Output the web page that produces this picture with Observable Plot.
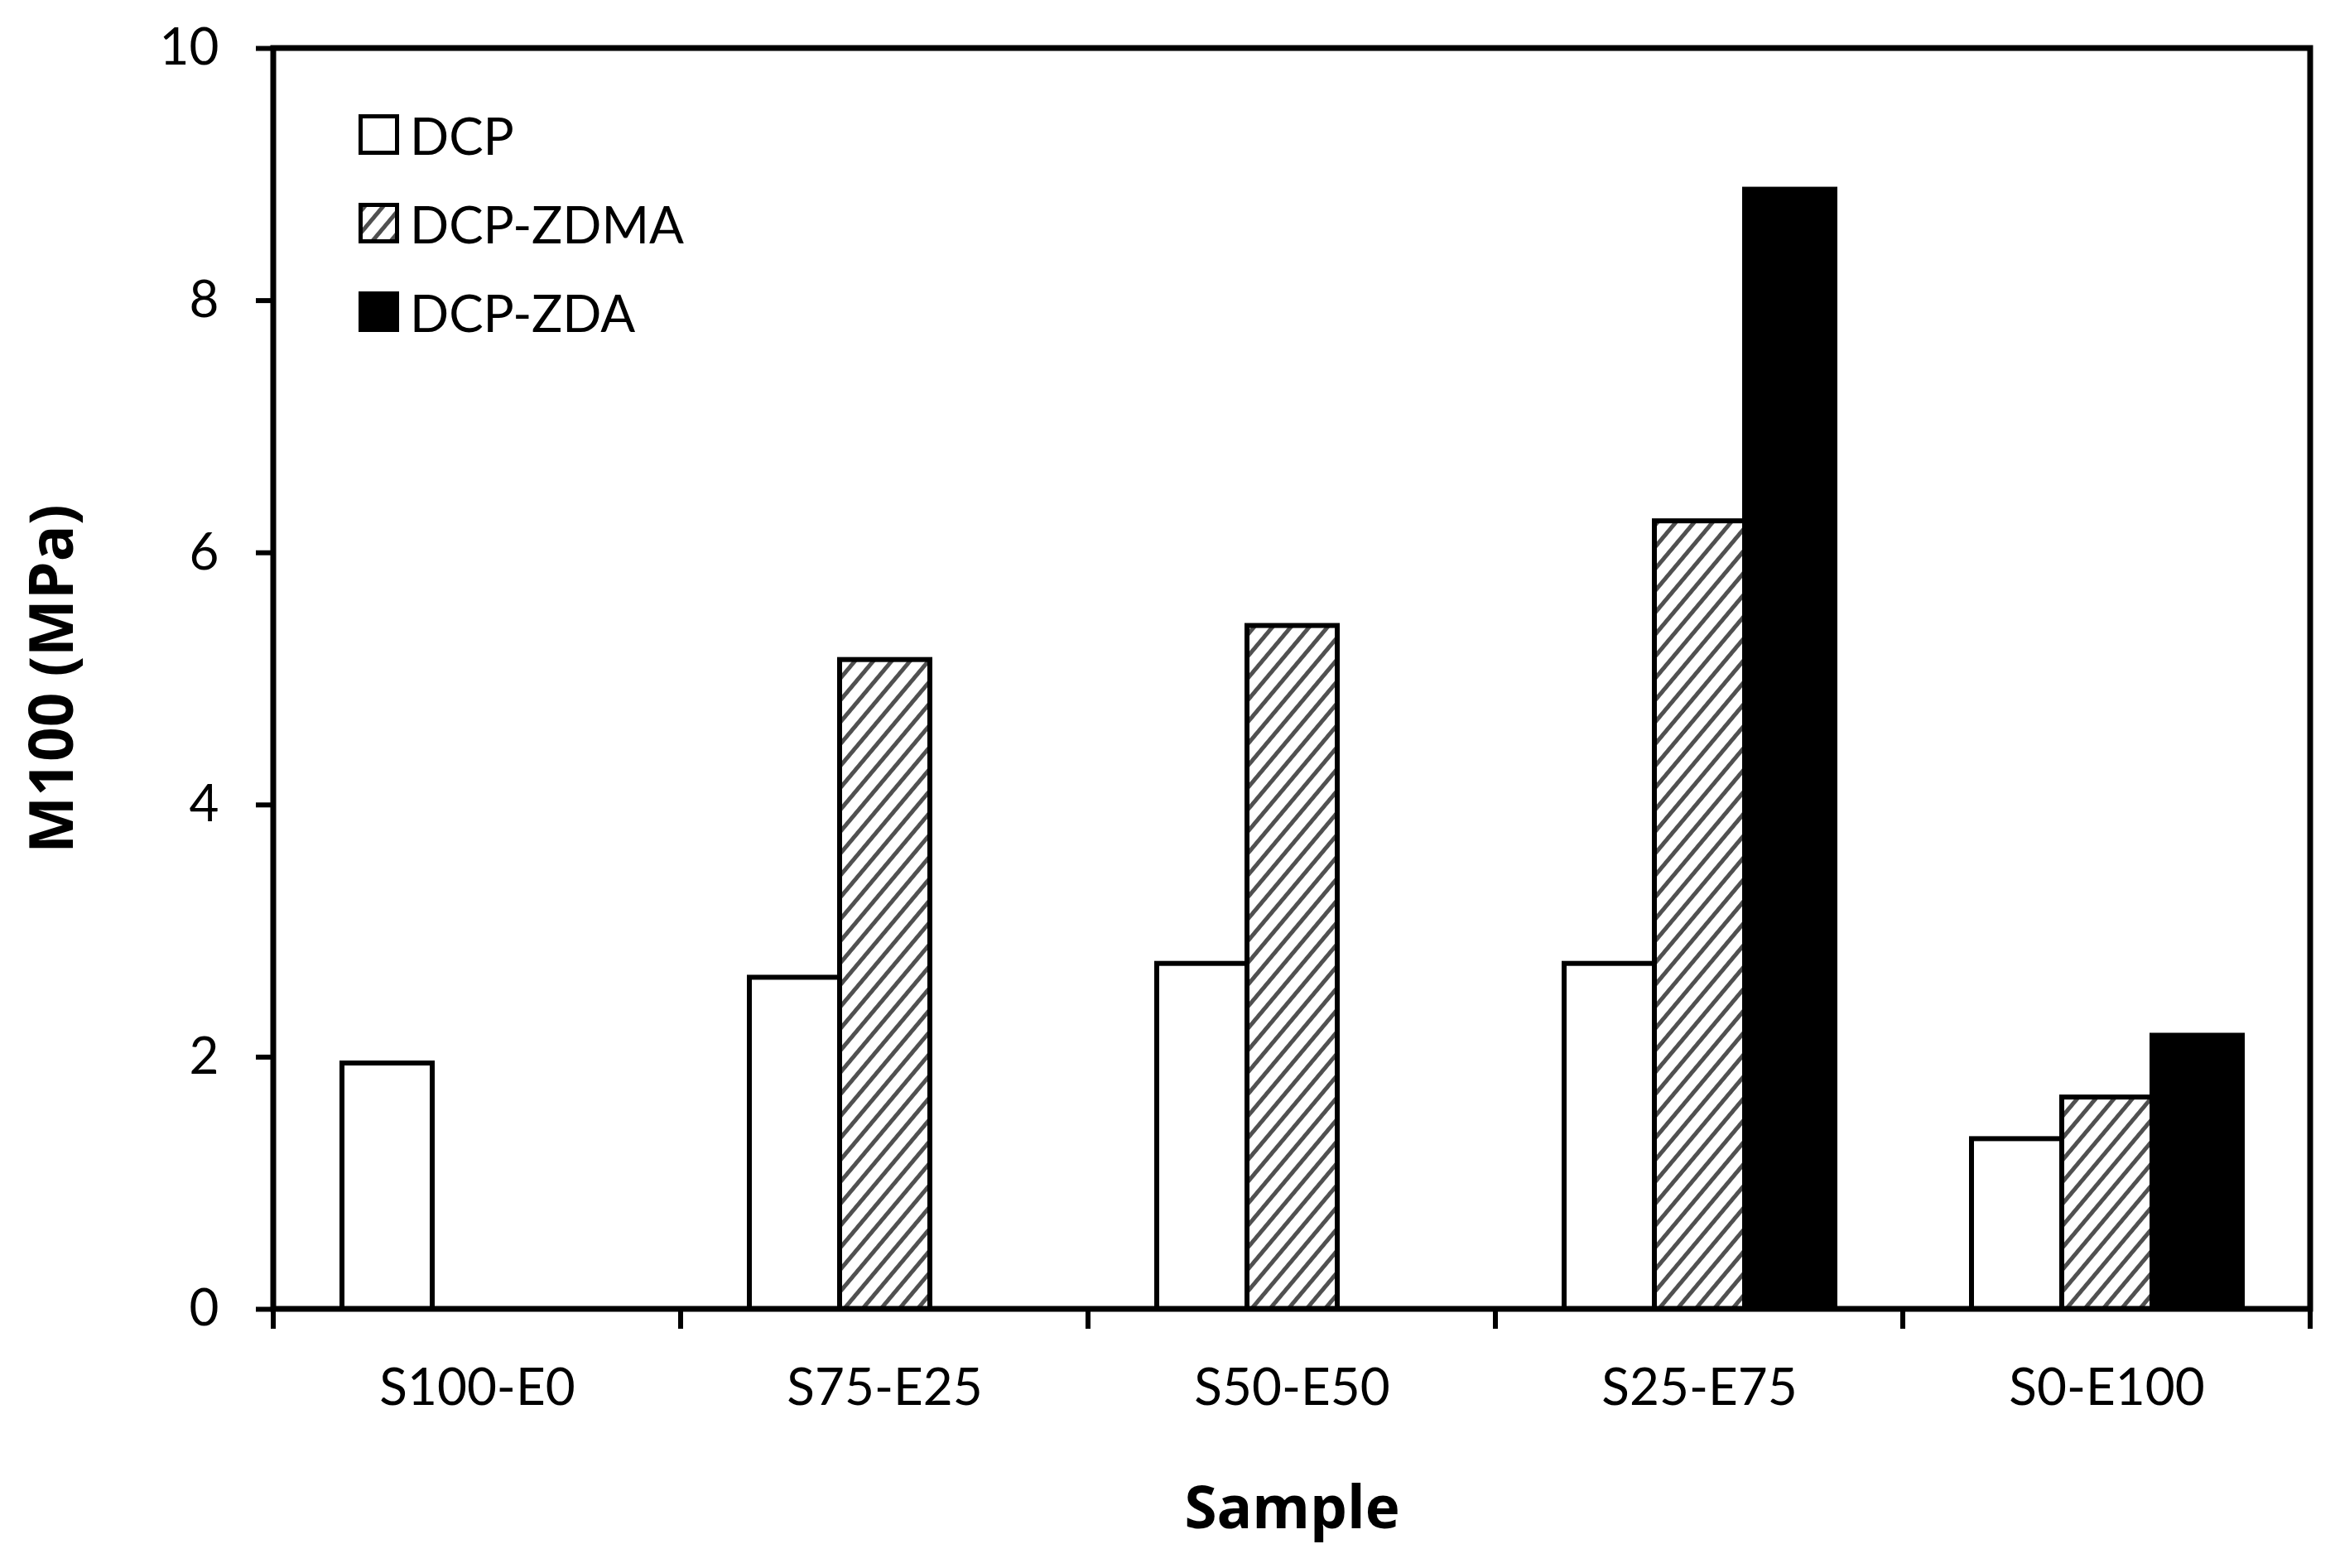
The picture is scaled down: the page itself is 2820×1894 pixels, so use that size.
<!DOCTYPE html>
<html>
<head>
<meta charset="utf-8">
<script src="https://cdn.jsdelivr.net/npm/d3@7"></script>
<script src="https://cdn.jsdelivr.net/npm/@observablehq/plot@0.6"></script>
<style>
  html, body { margin: 0; padding: 0; background: white; }
  #wrap { position: relative; width: 2820px; height: 1894px; overflow: hidden; }
  #legend { position: absolute; left: 433px; top: 109px; font-family: Lato, sans-serif; font-size: 62px; color: black; }
  .row { display: flex; align-items: center; height: 107px; }
  .row svg { display: block; margin-right: 13px; }
</style>
</head>
<body>
<svg width="0" height="0" style="position:absolute">
  <defs>
    <pattern id="hatch" patternUnits="userSpaceOnUse" width="17" height="17" patternTransform="rotate(40)">
      <rect width="17" height="17" fill="white"></rect>
      <line x1="8.5" y1="0" x2="8.5" y2="17" stroke="#505050" stroke-width="5"></line>
    </pattern>
  </defs>
</svg>
<div id="wrap">
  <div id="chart"></div>
  <div id="legend"></div>
</div>
<script>
const samples = ["S100-E0", "S75-E25", "S50-E50", "S25-E75", "S0-E100"];
const series = ["DCP", "DCP-ZDMA", "DCP-ZDA"];
const dcp  = [1.95, 2.63, 2.74, 2.74, 1.35];
const zdma = [null, 5.15, 5.42, 6.25, 1.68];
const zda  = [null, null, null, 8.88, 2.17];
const yTicks = [0, 2, 4, 6, 8, 10];
const fills = ["white", "url(#hatch)", "black"];

const valuesBySeries = [dcp, zdma, zda];
const data = [];
samples.forEach((s, i) => {
  series.forEach((k, j) => {
    const v = valuesBySeries[j][i];
    if (v != null) data.push({sample: s, series: k, value: v});
  });
});

// frame + boundary ticks drawn once over the whole plot, from the fx scale
const boxMark = Plot.frame({facet: "super"});
boxMark.render = function (index, scales, values, dims) {
  const {width, height, marginLeft, marginRight, marginTop, marginBottom} = dims;
  const x0 = marginLeft, x1 = width - marginRight;
  const y0 = marginTop, y1 = height - marginBottom;
  const fx = scales.fx;
  const bw = (x1 - x0) / samples.length;
  const edges = samples.map((s, i) => fx ? fx(s) : x0 + i * bw);
  edges.push(x1);
  const g = d3.create("svg:g");
  g.selectAll("line.tk").data(edges).join("line")
    .attr("x1", d => d).attr("x2", d => d)
    .attr("y1", y1).attr("y2", y1 + 24)
    .attr("stroke", "black").attr("stroke-width", 6);
  g.append("rect")
    .attr("x", x0).attr("y", y0)
    .attr("width", x1 - x0).attr("height", y1 - y0)
    .attr("fill", "none").attr("stroke", "black").attr("stroke-width", 7);
  return g.node();
};

const chart = Plot.plot({
  width: 2820,
  height: 1894,
  marginLeft: 329,
  marginRight: 30,
  marginTop: 58,
  marginBottom: 313,
  style: {fontFamily: "Lato, sans-serif", fontSize: "62px", color: "black", background: "white"},
  fx: {domain: samples, padding: 0},
  x: {domain: series, paddingInner: 0, paddingOuter: 0.755, axis: null},
  y: {domain: [0, 10]},
  color: {domain: series, range: fills},
  marks: [
    Plot.barY(data, {
      fx: "sample", x: "series", y: "value",
      fill: {value: "series", scale: "color"},
      stroke: "black", strokeWidth: 6
    }),
    Plot.axisY({ticks: yTicks, tickSize: 21, tickPadding: 45, strokeWidth: 6, label: null,
      fontSize: 62, fill: "black"}),
    Plot.axisY({ticks: [], tickSize: 0, text: null, label: "M100 (MPa)", labelAnchor: "center",
      labelArrow: "none", labelOffset: 294, fontSize: 73, fontWeight: "bold",
      fontFamily: "Open Sans, sans-serif", fill: "black"}),
    Plot.axisFx({anchor: "bottom", tickSize: 0, tickPadding: 71, label: null, fontSize: 62, fill: "black"}),
    Plot.axisFx({anchor: "bottom", ticks: [], tickSize: 0, text: null, label: "Sample", labelAnchor: "center",
      labelArrow: "none", labelOffset: 264, fontSize: 71, fontWeight: "bold",
      fontFamily: "Open Sans, sans-serif", fill: "black"}),
    boxMark
  ]
});
document.getElementById("chart").appendChild(chart);

// legend overlay inside the plot's upper-left corner
const legend = d3.select("#legend");
series.forEach((k, j) => {
  const row = legend.append("div").attr("class", "row");
  const sw = row.append("svg").attr("width", 49).attr("height", 49);
  sw.append("rect").attr("x", 2.5).attr("y", 2.5).attr("width", 44).attr("height", 44)
    .attr("fill", fills[j]).attr("stroke", "black").attr("stroke-width", 5);
  row.append("span").text(k);
});
</script>
</body>
</html>
